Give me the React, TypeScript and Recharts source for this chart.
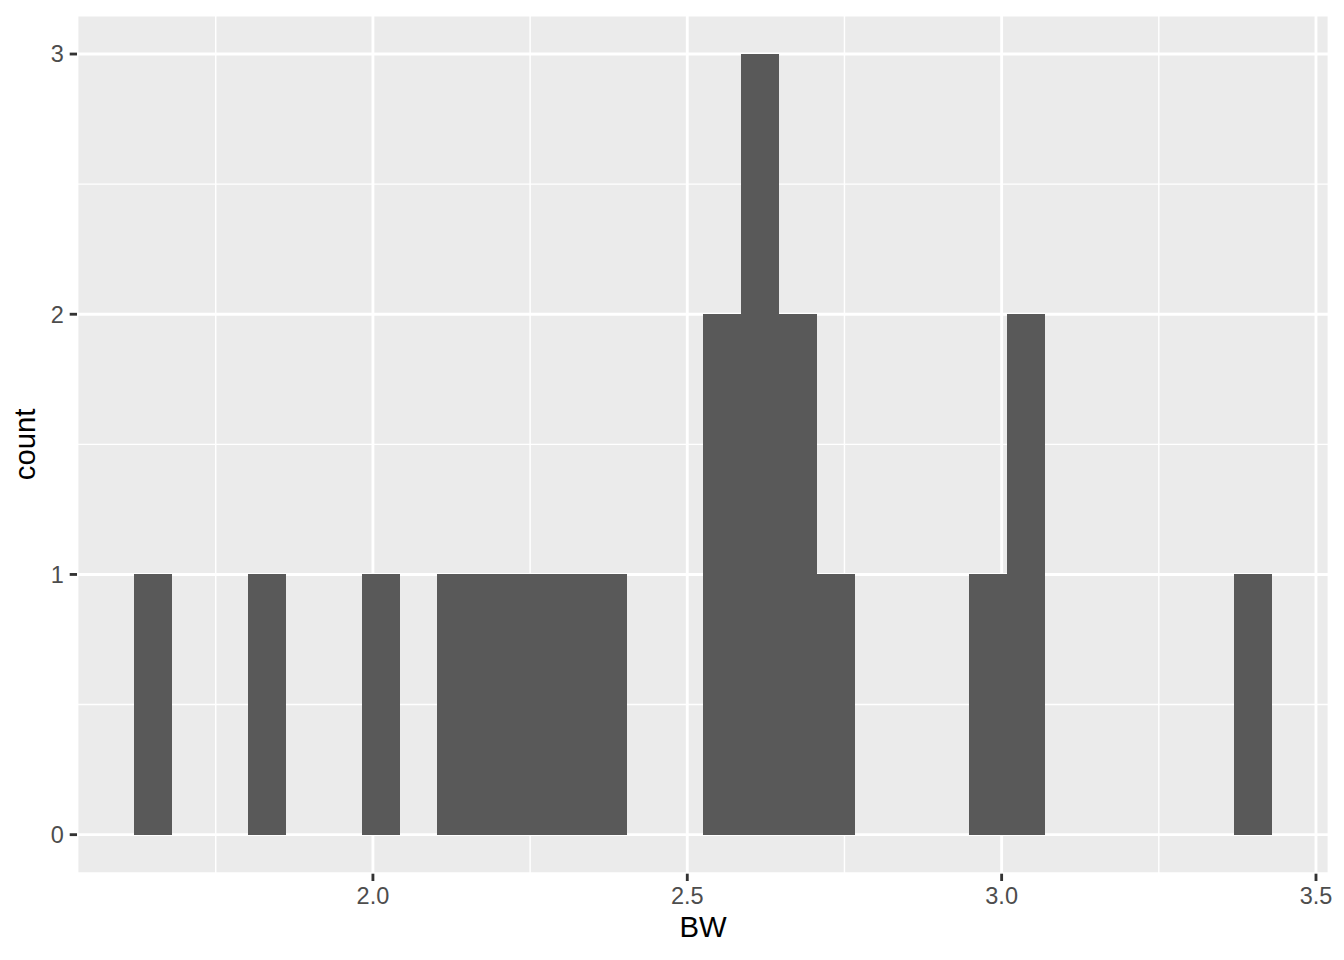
import { BarChart, Bar, XAxis, YAxis, CartesianGrid } from "recharts";

// histogram of BW, 30 bins (centres and counts)
const binCenters = [
  1.65, 1.7103, 1.7707, 1.831, 1.8914, 1.9517, 2.0121, 2.0724, 2.1328, 2.1931,
  2.2534, 2.3138, 2.3741, 2.4345, 2.4948, 2.5552, 2.6155, 2.6759, 2.7362, 2.7966,
  2.8569, 2.9172, 2.9776, 3.0379, 3.0983, 3.1586, 3.219, 3.2793, 3.3397, 3.4,
];
const counts = [
  1, 0, 0, 1, 0, 0, 1, 0, 1, 1,
  1, 1, 1, 0, 0, 2, 3, 2, 1, 0,
  0, 0, 1, 2, 0, 0, 0, 0, 0, 1,
];

const xTicks = [2.0, 2.5, 3.0, 3.5];
const xMinor = [1.75, 2.25, 2.75, 3.25];
const yTicks = [0, 1, 2, 3];
const yMinor = [0.5, 1.5, 2.5];

const xDomain = [1.5293, 3.5207];
const yDomain = [-0.15, 3.15];

const data = binCenters.map((bw, i) => ({ bw, count: counts[i] }));

const tickStyle = { fontSize: 23.5, fill: "#4D4D4D" };
const tickLine = { stroke: "#333333", strokeWidth: 2.85 };

export default function App() {
  return (
    <div style={{ position: "absolute", left: 0, top: 0, fontFamily: "'Liberation Sans', Arial, sans-serif" }}>
      <BarChart
        width={1344}
        height={960}
        data={data}
        margin={{ top: 15, right: 15, bottom: 0, left: 0 }}
        barCategoryGap={0}
        barGap={0}
      >
        {/* minor grid, drawn from hidden helper axes */}
        <CartesianGrid xAxisId="minor" yAxisId="minor" fill="#EBEBEB" stroke="#FFFFFF" strokeWidth={1.42} />
        <CartesianGrid fill="none" stroke="#FFFFFF" strokeWidth={2.85} />
        <XAxis xAxisId="minor" dataKey="bw" type="number" domain={xDomain} allowDataOverflow ticks={xMinor} hide />
        <YAxis yAxisId="minor" type="number" domain={yDomain} allowDataOverflow ticks={yMinor} hide />
        <XAxis
          dataKey="bw"
          type="number"
          domain={xDomain}
          allowDataOverflow
          ticks={xTicks}
          tickFormatter={(v: number) => v.toFixed(1)}
          height={86.3}
          axisLine={false}
          tickLine={tickLine}
          tickSize={7.3}
          tickMargin={5.9}
          tick={tickStyle}
          label={{ value: "BW", position: "insideBottom", offset: 23, fill: "#000000", fontSize: 29.3 }}
        />
        <YAxis
          type="number"
          domain={yDomain}
          allowDataOverflow
          ticks={yTicks}
          width={77}
          axisLine={false}
          tickLine={tickLine}
          tickSize={7.3}
          tickMargin={5.9}
          tick={tickStyle}
          label={{
            value: "count",
            angle: -90,
            position: "insideLeft",
            offset: 25,
            fill: "#000000",
            fontSize: 29.3,
            style: { textAnchor: "middle" },
          }}
        />
        <Bar dataKey="count" fill="#595959" isAnimationActive={false} shapeRendering="crispEdges" />
      </BarChart>
    </div>
  );
}
